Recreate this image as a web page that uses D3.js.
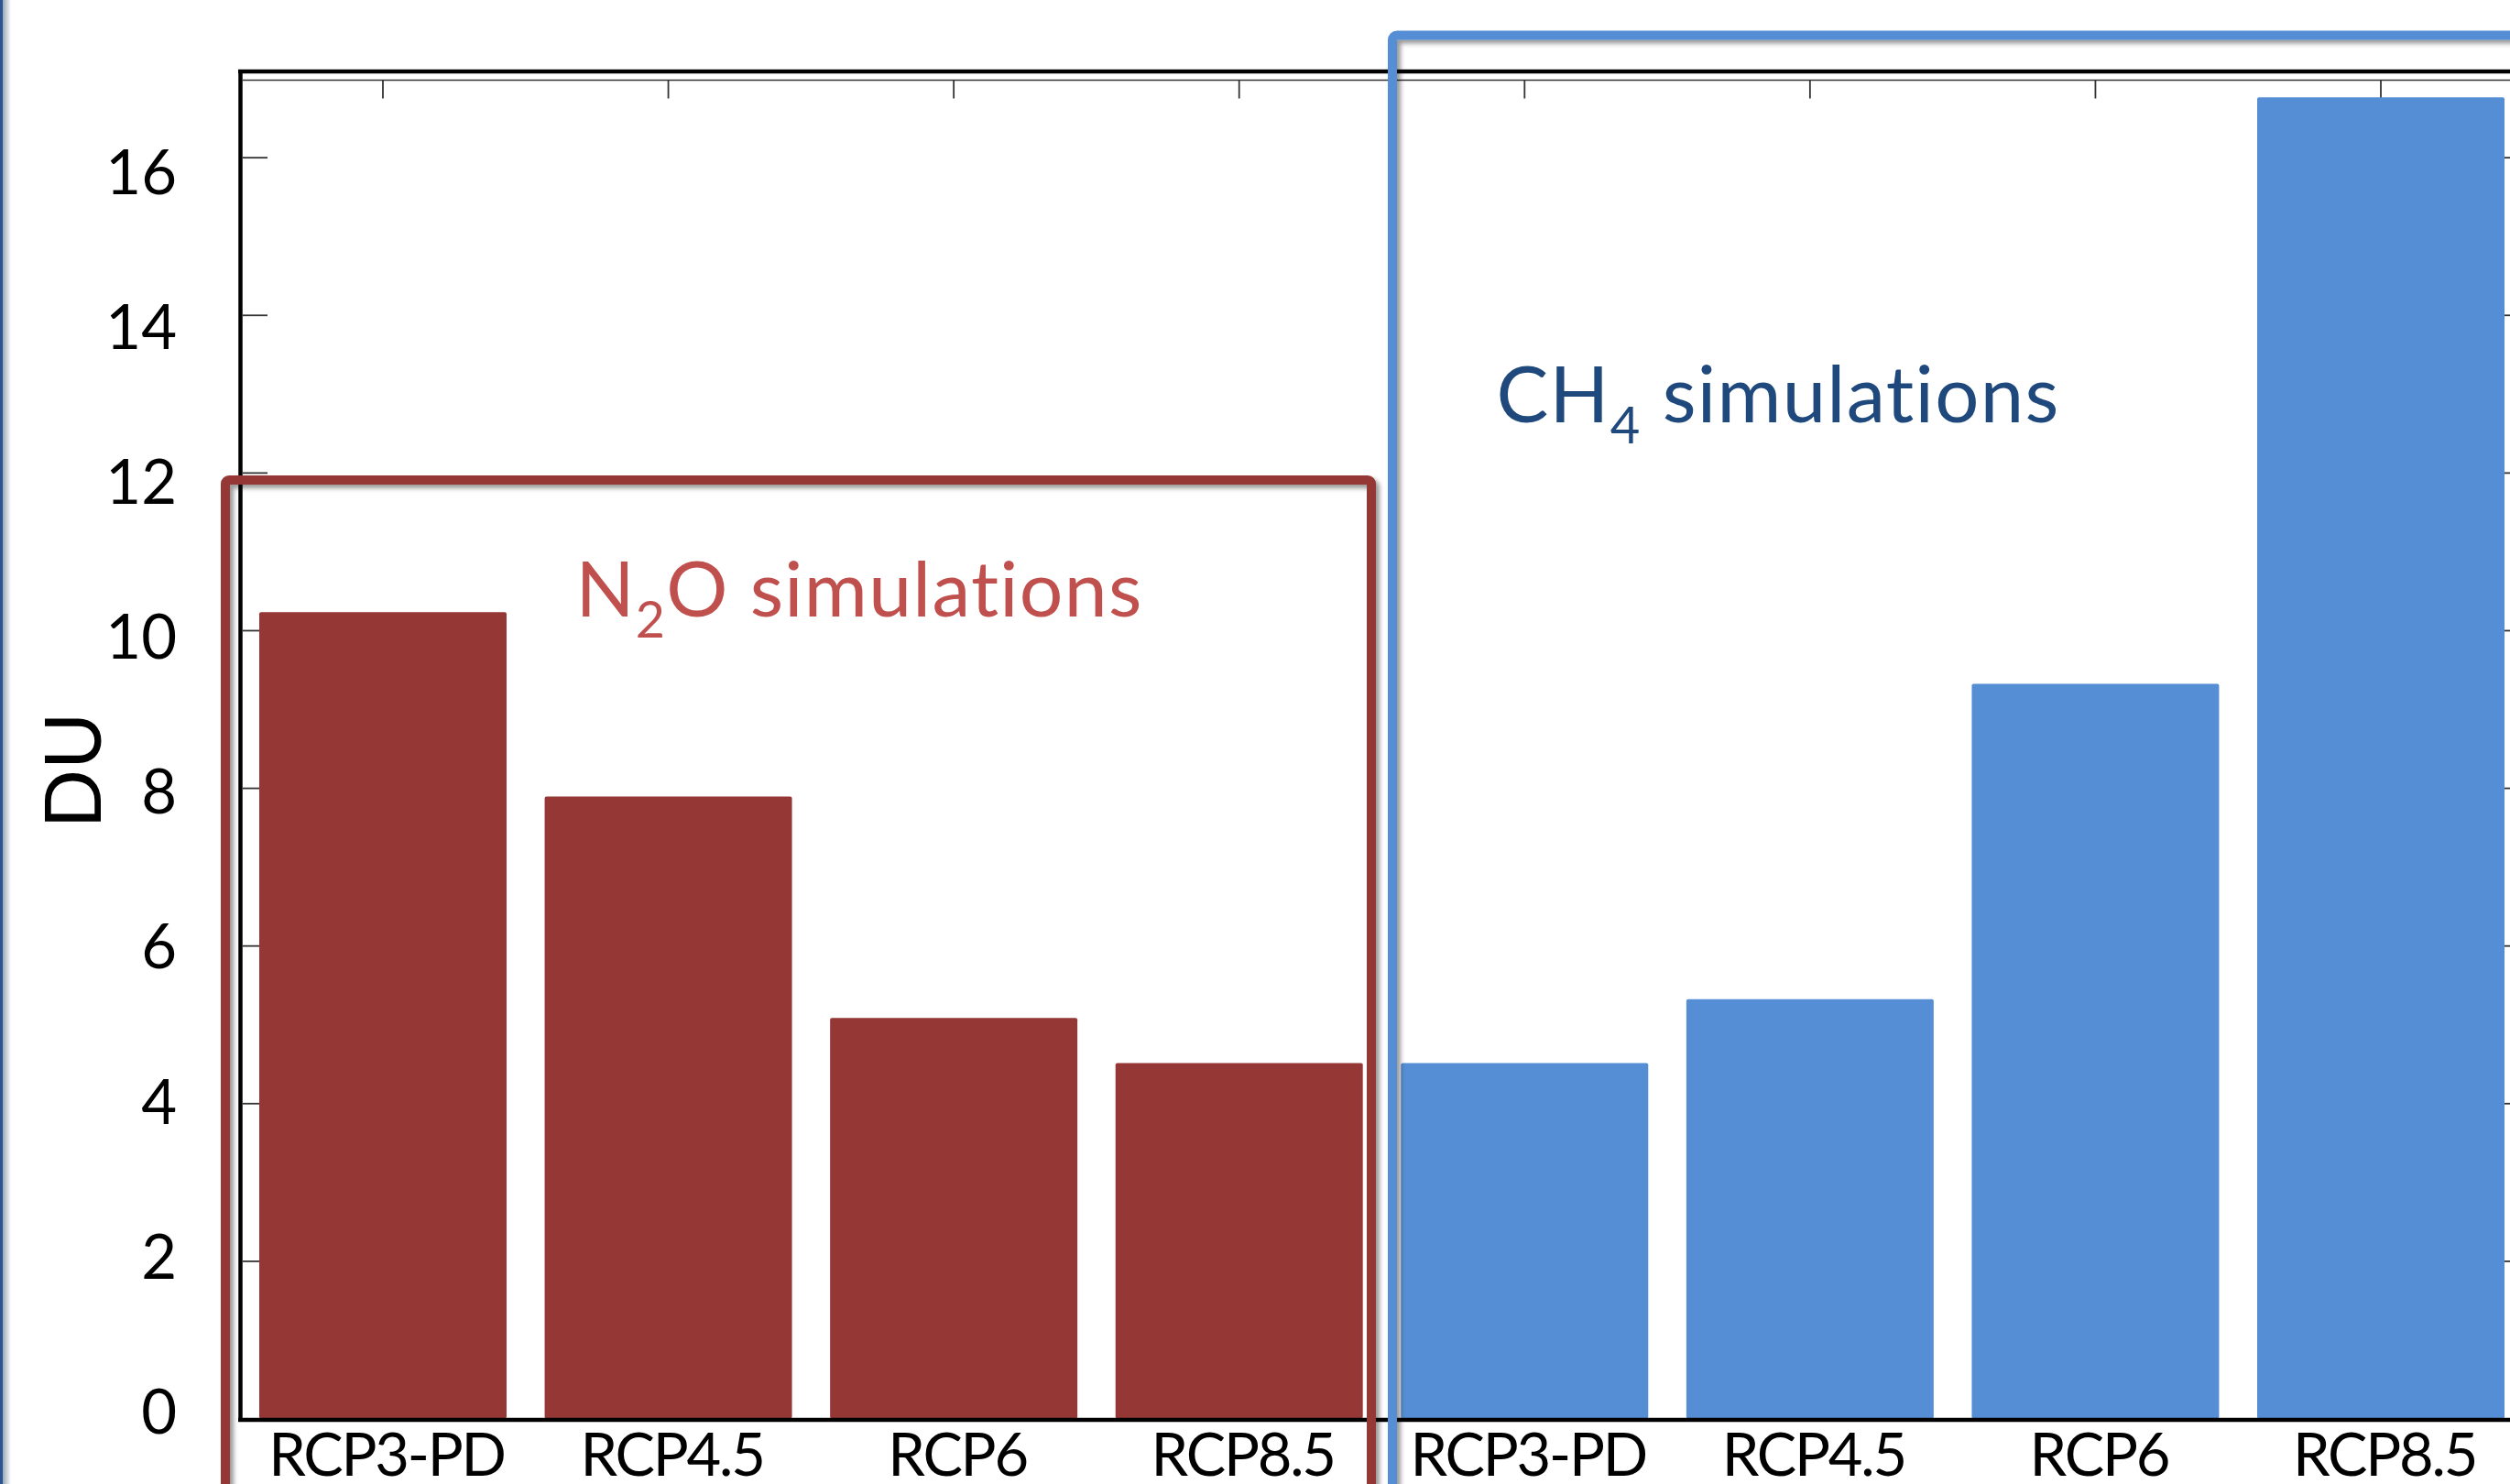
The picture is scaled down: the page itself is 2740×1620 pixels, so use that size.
<!DOCTYPE html>
<html>
<head>
<meta charset="utf-8">
<script src="https://cdn.jsdelivr.net/npm/d3@7"></script>
<style>
  html, body { margin: 0; padding: 0; background: #fff; }
  svg { display: block; }
  text { font-family: Lato, "Open Sans", "Noto Sans", sans-serif; }
</style>
</head>
<body>
<svg id="chart" width="2740" height="1620"></svg>
<script>
// Total column ozone change (DU) per RCP scenario, for the two sets of runs
const scenarios = ["RCP3-PD", "RCP4.5", "RCP6", "RCP8.5"];
const n2oValues = [10.23, 7.89, 5.08, 4.51];
const ch4Values = [4.51, 5.32, 9.32, 16.76];
const yTickValues = [0, 2, 4, 6, 8, 10, 12, 14, 16];
const yDomainMax = 17.1;
const yTitle = "DU";

const n2oColor = "#953735";
const ch4Color = "#558ed5";

const rows = [
  ...scenarios.map((s, i) => ({ key: "N2O " + s, label: s, value: n2oValues[i], group: "N2O" })),
  ...scenarios.map((s, i) => ({ key: "CH4 " + s, label: s, value: ch4Values[i], group: "CH4" }))
];

const svg = d3.select("#chart");

// shadow used by the group outlines
const defs = svg.append("defs");
const shadow = defs.append("filter").attr("id", "boxShadow")
  .attr("x", "-5%").attr("y", "-5%").attr("width", "110%").attr("height", "110%");
shadow.append("feDropShadow").attr("dx", 4).attr("dy", 4)
  .attr("stdDeviation", 2.5).attr("flood-color", "#000").attr("flood-opacity", 0.4);
const edgeGrad = defs.append("linearGradient").attr("id", "edgeFade");
edgeGrad.append("stop").attr("offset", "0%").attr("stop-color", "#9aa7b8");
edgeGrad.append("stop").attr("offset", "100%").attr("stop-color", "#fff");

// scales
const x = d3.scaleBand()
  .domain(rows.map(d => d.key))
  .range([263, 2754])
  .paddingInner(0.1335)
  .paddingOuter(0.0642);

const y = d3.scaleLinear().domain([0, yDomainMax]).range([1548.5, 77]);
// tick numbers sit on their own slightly tighter ladder
const yLabel = d3.scaleLinear().domain([0, 16]).range([1540, 187.5]);

const [plotLeft, plotRight] = x.range();
const plotBase = y(0);

// slide edge
svg.append("rect").attr("x", 3).attr("y", 0).attr("width", 9).attr("height", 1620).attr("fill", "url(#edgeFade)");
svg.append("rect").attr("x", 0).attr("y", 0).attr("width", 3).attr("height", 1620).attr("fill", "#2b5590");

// inner thin top line of the plot area
svg.append("line")
  .attr("x1", plotLeft + 2).attr("x2", plotRight).attr("y1", 87.5).attr("y2", 87.5)
  .attr("stroke", "#333").attr("stroke-width", 1.6);

// inward ticks: left, right and top
const leftTicks = svg.append("g").attr("transform", `translate(${plotLeft + 2},0)`)
  .call(d3.axisLeft(y).tickValues(yTickValues).tickSize(-27).tickFormat(""));
const rightTicks = svg.append("g").attr("transform", `translate(${plotRight},0)`)
  .call(d3.axisRight(y).tickValues(yTickValues).tickSize(-26).tickFormat(""));
const topTicks = svg.append("g").attr("transform", `translate(0,87.5)`)
  .call(d3.axisTop(x).tickSize(-20).tickFormat(""));
[leftTicks, rightTicks, topTicks].forEach(g => {
  g.select(".domain").remove();
  g.selectAll(".tick line").attr("stroke", "#333").attr("stroke-width", 1.8);
});

// bars
svg.append("g").selectAll("rect").data(rows).join("rect")
  .attr("x", d => x(d.key))
  .attr("width", x.bandwidth())
  .attr("y", d => y(d.value))
  .attr("height", d => y(0) - y(d.value))
  .attr("rx", 2)
  .attr("fill", d => d.group === "N2O" ? n2oColor : ch4Color);

// heavy plot frame
const frame = svg.append("g").attr("stroke", "#000").attr("stroke-width", 4.5).attr("fill", "none");
frame.append("line").attr("x1", plotLeft - 3).attr("x2", 2745).attr("y1", 78).attr("y2", 78);
frame.append("line").attr("x1", plotLeft - 0.5).attr("x2", plotLeft - 0.5).attr("y1", 76).attr("y2", plotBase + 3.5);
frame.append("line").attr("x1", plotLeft - 3).attr("x2", 2745).attr("y1", plotBase + 1.5).attr("y2", plotBase + 1.5);

// y tick numbers
const yAxisLabels = svg.append("g").attr("transform", "translate(193,0)")
  .call(d3.axisLeft(yLabel).tickValues(yTickValues).tickSize(0).tickPadding(0));
yAxisLabels.select(".domain").remove();
yAxisLabels.selectAll("text")
  .attr("x", 0).attr("dy", "0.36em")
  .attr("font-size", 67).attr("fill", "#000")
  .style("font-family", "Lato, 'Open Sans', sans-serif");

// scenario names under the bars
const xAxis = svg.append("g").attr("transform", `translate(4,1611)`)
  .call(d3.axisBottom(x).tickSize(0).tickFormat(k => rows.find(r => r.key === k).label));
xAxis.select(".domain").remove();
xAxis.selectAll("text")
  .attr("y", 0).attr("dy", 0)
  .attr("font-size", 65).attr("fill", "#000")
  .attr("letter-spacing", -2.2)
  .style("font-family", "Lato, 'Open Sans', sans-serif");

// y title
svg.append("text")
  .attr("transform", "translate(110,841) rotate(-90)")
  .attr("text-anchor", "middle")
  .attr("font-size", 85).attr("fill", "#000")
  .text(yTitle);

// group outlines
svg.append("rect")
  .attr("x", 246).attr("y", 524).attr("width", 1251).attr("height", 1300)
  .attr("rx", 4).attr("fill", "none")
  .attr("stroke", n2oColor).attr("stroke-width", 10)
  .attr("filter", "url(#boxShadow)");
svg.append("rect")
  .attr("x", 1520).attr("y", 38.5).attr("width", 1400).attr("height", 1800)
  .attr("rx", 5).attr("fill", "none")
  .attr("stroke", ch4Color).attr("stroke-width", 10)
  .attr("filter", "url(#boxShadow)");

// group captions with chemical subscripts
function caption(xc, yb, pre, sub, post, color, size) {
  const t = svg.append("text")
    .attr("x", xc).attr("y", yb)
    .attr("text-anchor", "middle")
    .attr("letter-spacing", 1.3)
    .attr("font-size", size).attr("fill", color);
  t.append("tspan").text(pre);
  t.append("tspan").attr("font-size", size * 0.66).attr("dy", size * 0.27).text(sub);
  t.append("tspan").attr("dy", -size * 0.27).text(post);
}
caption(938, 673, "N", "2", "O simulations", "#c0504d", 84);
caption(1941, 461, "CH", "4", " simulations", "#1f497d", 85);
</script>
</body>
</html>
